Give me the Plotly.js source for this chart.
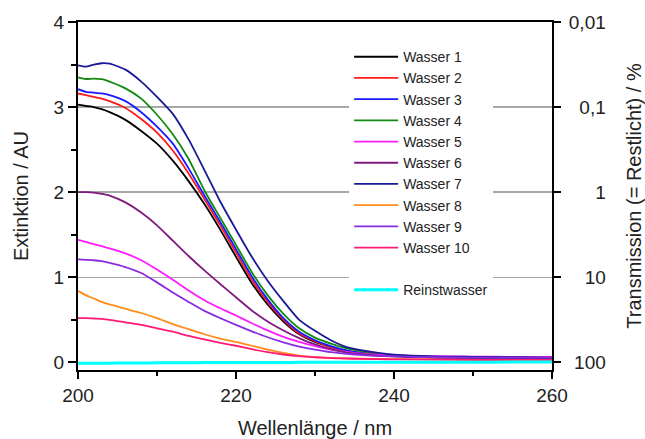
<!DOCTYPE html>
<html>
<head>
<meta charset="utf-8">
<script src="https://cdn.plot.ly/plotly-3.0.1.min.js"></script>
<style>html,body{margin:0;padding:0;background:#fff;}#chart{width:645px;height:439px;}</style>
</head>
<body>
<div id="chart"></div>
<script>
const wavelength = [200,201,202,203,204,206,208,210,212,214,216,218,220,222,224,226,228,230,232,234,236,238,240,245,250,255,260];

const wasser1 = [3.03,3.015,3.00,2.975,2.94,2.85,2.72,2.57,2.37,2.13,1.86,1.56,1.24,0.93,0.68,0.48,0.33,0.24,0.18,0.13,0.10,0.08,0.07,0.055,0.05,0.045,0.045];
const wasser2 = [3.16,3.14,3.12,3.10,3.07,2.99,2.86,2.70,2.49,2.22,1.92,1.61,1.29,0.97,0.71,0.50,0.34,0.25,0.18,0.135,0.105,0.085,0.075,0.06,0.055,0.05,0.05];
const wasser3 = [3.21,3.18,3.17,3.16,3.14,3.07,2.94,2.77,2.57,2.28,1.96,1.65,1.33,1.01,0.74,0.52,0.36,0.26,0.19,0.14,0.11,0.09,0.075,0.06,0.055,0.05,0.05];
const wasser4 = [3.35,3.33,3.335,3.33,3.30,3.22,3.10,2.91,2.68,2.39,2.02,1.70,1.38,1.06,0.79,0.57,0.40,0.29,0.22,0.165,0.13,0.10,0.085,0.065,0.06,0.055,0.05];
const wasser5 = [1.44,1.415,1.39,1.365,1.34,1.28,1.20,1.09,0.97,0.845,0.73,0.635,0.55,0.46,0.375,0.30,0.24,0.19,0.15,0.123,0.103,0.09,0.082,0.072,0.067,0.065,0.065];
const wasser6 = [2.00,2.00,1.995,1.98,1.96,1.88,1.76,1.61,1.43,1.25,1.08,0.92,0.765,0.61,0.48,0.375,0.285,0.21,0.155,0.115,0.095,0.08,0.072,0.065,0.06,0.055,0.05];
const wasser7 = [3.49,3.475,3.50,3.515,3.51,3.44,3.30,3.12,2.92,2.62,2.26,1.89,1.56,1.24,0.96,0.72,0.50,0.37,0.26,0.18,0.14,0.11,0.09,0.07,0.065,0.06,0.055];
const wasser8 = [0.84,0.79,0.75,0.71,0.68,0.63,0.58,0.52,0.45,0.39,0.33,0.28,0.24,0.195,0.15,0.11,0.08,0.062,0.052,0.046,0.042,0.04,0.037,0.035,0.03,0.03,0.03];
const wasser9 = [1.21,1.205,1.20,1.19,1.17,1.12,1.05,0.94,0.82,0.71,0.605,0.52,0.44,0.365,0.295,0.235,0.185,0.15,0.12,0.10,0.085,0.075,0.07,0.06,0.055,0.055,0.055];
const wasser10 = [0.52,0.52,0.515,0.51,0.50,0.47,0.44,0.40,0.36,0.31,0.27,0.23,0.195,0.155,0.12,0.092,0.072,0.06,0.05,0.045,0.04,0.038,0.035,0.033,0.03,0.03,0.03];
const reinstwasser = [-0.012,-0.011,-0.011,-0.01,-0.01,-0.008,-0.007,-0.006,-0.005,-0.004,-0.003,-0.003,-0.002,-0.002,-0.001,-0.001,0,0,0,0,0,0,0,0.001,0.002,0.003,0.003];

const seriesNames = ["Wasser 1","Wasser 2","Wasser 3","Wasser 4","Wasser 5","Wasser 6","Wasser 7","Wasser 8","Wasser 9","Wasser 10","Reinstwasser"];
const seriesValues = [wasser1,wasser2,wasser3,wasser4,wasser5,wasser6,wasser7,wasser8,wasser9,wasser10,reinstwasser];
const seriesColors = ["#000000","#ff1a1a","#1a1aff","#128a12","#ff1aff","#7f1a7f","#1a1a99","#ff8c1a","#8a2be2","#ff1a75","#00ffff"];

const leftTicks = [0,1,2,3,4];
const leftTickText = ["0","1","2","3","4"];
const rightTicks = [0,1,2,3,4];
const rightTickText = ["\u2008100","\u2007\u200810","\u2007\u2007\u20081","\u20070,1","0,01"];
const xTicks = [200,220,240,260];

const font = "Liberation Sans, Arial, Helvetica, sans-serif";

const traces = seriesNames.map((n,i) => ({
  x: wavelength,
  y: seriesValues[i],
  name: n,
  type: "scatter",
  mode: "lines",
  line: {color: seriesColors[i], width: i === 10 ? 3 : 1.8, shape: "spline", smoothing: 0.6},
  legendgroup: i === 10 ? "r" : "w",
  yaxis: i === 10 ? "y2" : "y"
}));

const yRange = [-0.09, 4];

const layout = {
  width: 645, height: 439,
  margin: {l: 78, r: 93, t: 22, b: 69},
  paper_bgcolor: "#ffffff",
  plot_bgcolor: "#ffffff",
  font: {family: font, size: 19, color: "#222"},
  showlegend: true,
  legend: {
    x: 0.572, y: 0.945, xanchor: "left", yanchor: "top",
    bgcolor: "#ffffff", borderwidth: 0,
    font: {family: font, size: 14, color: "#222"},
    itemwidth: 44,
    entrywidth: 205,
    tracegroupgap: 21,
    traceorder: "grouped"
  },
  xaxis: {
    range: [200, 260],
    tickvals: xTicks,
    ticks: "outside", ticklen: 7, tickwidth: 2, tickcolor: "#000",
    minor: {dtick: 10, tick0: 200, ticks: "outside", ticklen: 4, tickwidth: 2, tickcolor: "#000", showgrid: false},
    showline: true, linewidth: 2, linecolor: "#000",
    mirror: true,
    showgrid: false, zeroline: false,
    tickfont: {size: 19, color: "#222"},
    title: {text: "Wellenlänge / nm", font: {size: 20, color: "#222"}, standoff: 18}
  },
  yaxis: {
    range: yRange,
    tickvals: leftTicks, ticktext: leftTickText,
    ticks: "outside", ticklen: 8, tickwidth: 2, tickcolor: "#000",
    minor: {dtick: 0.5, tick0: 0, ticks: "outside", ticklen: 5, tickwidth: 2, tickcolor: "#000", showgrid: false},
    showline: true, linewidth: 2, linecolor: "#000",
    showgrid: true, gridcolor: "#a8a8a8", gridwidth: 1.5,
    zeroline: false,
    tickfont: {size: 19, color: "#222"},
    title: {text: "Extinktion / AU", font: {size: 20, color: "#222"}, standoff: 20}
  },
  yaxis2: {
    range: yRange,
    overlaying: "y", side: "right",
    tickvals: rightTicks, ticktext: rightTickText,
    ticks: "outside", ticklen: 7, tickwidth: 2, tickcolor: "#000",
    ticklabelstandoff: 4,
    showline: true, linewidth: 2, linecolor: "#000",
    showgrid: false, zeroline: false,
    tickfont: {size: 19, color: "#222"},
    title: {text: "Transmission (= Restlicht) / %", font: {size: 20, color: "#222"}, standoff: 22}
  }
};

Plotly.newPlot("chart", traces, layout, {displayModeBar: false, staticPlot: true});
</script>
</body>
</html>
